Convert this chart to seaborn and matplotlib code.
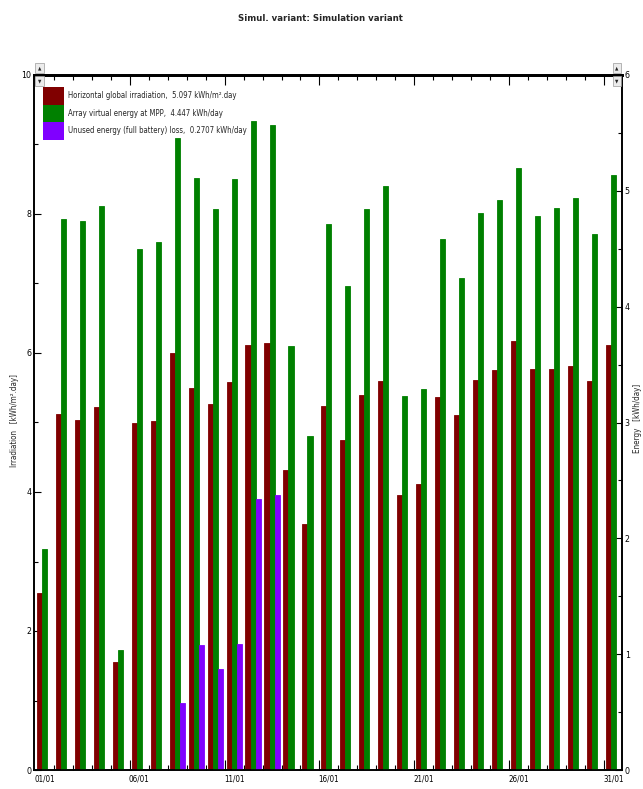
import matplotlib
matplotlib.use("Agg")
import matplotlib.pyplot as plt
from matplotlib.patches import Patch
from matplotlib.ticker import MultipleLocator
import seaborn as sns
import pandas as pd

# daily values, January
days = ["01/01", "02/01", "03/01", "04/01", "05/01", "06/01", "07/01", "08/01",
        "09/01", "10/01", "11/01", "12/01", "13/01", "14/01", "15/01", "16/01",
        "17/01", "18/01", "19/01", "20/01", "21/01", "22/01", "23/01", "24/01",
        "25/01", "26/01", "27/01", "28/01", "29/01", "30/01", "31/01"]

# kWh/m2.day (left axis)
irradiation = [2.54, 5.12, 5.03, 5.22, 1.55, 4.99, 5.02, 6.00, 5.50, 5.26, 5.58,
               6.11, 6.14, 4.32, 3.54, 5.24, 4.75, 5.39, 5.60, 3.95, 4.11, 5.37,
               5.11, 5.61, 5.75, 6.17, 5.77, 5.77, 5.82, 5.60, 6.12]

# kWh/day (right axis)
array_energy = [1.91, 4.76, 4.74, 4.87, 1.04, 4.50, 4.56, 5.46, 5.11, 4.84, 5.10,
                5.60, 5.57, 3.66, 2.88, 4.71, 4.18, 4.84, 5.04, 3.23, 3.29, 4.58,
                4.25, 4.81, 4.92, 5.20, 4.78, 4.85, 4.94, 4.63, 5.14]

unused_energy = [0, 0, 0, 0, 0, 0, 0, 0.58, 1.08, 0.87, 1.09, 2.34, 2.37, 0, 0, 0,
                 0, 0, 0, 0, 0, 0, 0, 0, 0, 0, 0, 0, 0, 0, 0]

series_names = ["Horizontal global irradiation,  5.097 kWh/m\u00b2.day",
                "Array virtual energy at MPP,  4.447 kWh/day",
                "Unused energy (full battery) loss,  0.2707 kWh/day"]
series_colors = ["#800000", "#008000", "#8000ff"]
palette = dict(zip(series_names, series_colors))

df = pd.DataFrame({
    "day": days * 3,
    "value": irradiation + array_energy + unused_energy,
    "series": [series_names[0]] * 31 + [series_names[1]] * 31 + [series_names[2]] * 31,
})

sns.set_theme(style="white")
plt.rcParams["font.family"] = ["DejaVu Sans"]
plt.rcParams["font.stretch"] = "condensed"

W, H = 643, 789
fig = plt.figure(figsize=(W / 100, H / 100), dpi=100)
ax = fig.add_axes([34 / W, 19 / H, 588 / W, 695 / H])
ax2 = ax.twinx()

common = dict(data=df, x="day", y="value", hue="series", hue_order=series_names,
              palette=palette, order=days, width=0.8, errorbar=None,
              saturation=1, legend=False)
# draw all three on each axis so the dodge is the same, then keep
# irradiation on the left scale and the energies on the right scale
sns.barplot(ax=ax, **common)
sns.barplot(ax=ax2, **common)
for c in ax.containers[1:]:
    for bar in c:
        bar.remove()
for bar in ax2.containers[0]:
    bar.remove()

# thin edge so the zero bars show as a line at the base
for a in (ax, ax2):
    for p in a.patches:
        p.set_edgecolor(p.get_facecolor())
        p.set_linewidth(0.6)

ax.set_ylim(0, 10)
ax2.set_ylim(0, 6)
ax.set_xlim(-0.55, 30.45)
for a in (ax, ax2):
    a.set_xlabel("")
    a.set_ylabel("")

# y ticks
ax.yaxis.set_major_locator(MultipleLocator(2))
ax.yaxis.set_minor_locator(MultipleLocator(1))
ax2.yaxis.set_major_locator(MultipleLocator(1))
ax2.yaxis.set_minor_locator(MultipleLocator(0.5))
ax.tick_params(axis="y", which="both", direction="in", left=True, right=False,
               labelsize=6.3, pad=2, colors="black")
ax.tick_params(axis="y", which="major", length=5, width=0.8)
ax.tick_params(axis="y", which="minor", length=3, width=0.8)
ax2.tick_params(axis="y", which="both", direction="in", right=True, left=False,
                labelsize=6.3, pad=2, colors="black")
ax2.tick_params(axis="y", which="major", length=5, width=0.8)
ax2.tick_params(axis="y", which="minor", length=3, width=0.8)

# x ticks: marks at day boundaries, date labels at every 5th day
bounds = [i + 0.5 for i in range(30)]
ax.set_xticks(bounds)
ax.set_xticklabels([])
ax.set_xticks(range(0, 31, 5), minor=True)
ax.set_xticklabels(days[::5], minor=True)
ax.tick_params(axis="x", which="major", direction="in", bottom=True, top=True,
               length=3.5, width=0.8, color="black")
ax.tick_params(axis="x", which="minor", length=0, labelsize=5.8, pad=3,
               labelcolor="black")
for t, b in zip(ax.xaxis.get_major_ticks(), bounds):
    if int(b + 0.5) % 5 == 0:
        t.tick1line.set_markersize(7)
        t.tick2line.set_markersize(7)

for a in (ax, ax2):
    for s in a.spines.values():
        s.set_visible(True)
        s.set_color("black")
        s.set_linewidth(1.2)
    a.spines["top"].set_linewidth(2)
    a.grid(False)

handles = [Patch(facecolor=c, edgecolor="none") for c in series_colors]
ax2.legend(handles, series_names, loc="upper left",
           bbox_to_anchor=(9 / 588, 1 - 12 / 695), frameon=False,
           borderpad=0, borderaxespad=0, labelspacing=0.0,
           handlelength=2.65, handleheight=3.1, handletextpad=0.6,
           fontsize=5.6)

fig.text(0.498, 0.977, "Simul. variant: Simulation variant", ha="center",
         va="center", fontsize=6.8, fontweight="bold")
fig.text(15 / W, 1 - 421 / H, "Irradiation   [kWh/m\u00b2.day]", rotation=90,
         ha="center", va="center", fontsize=5.8)
fig.text(637 / W, 1 - 418 / H, "Energy   [kWh/day]", rotation=90,
         ha="center", va="center", fontsize=5.8)

# little scroll buttons at the axis ends
for x in (39.5 / W, 617 / W):
    for y, sym in ((1 - 68 / H, "\u25b2"), (1 - 81 / H, "\u25bc")):
        fig.text(x, y, sym, ha="center", va="center", fontsize=3.5,
                 bbox=dict(boxstyle="square,pad=0.5", facecolor="#ececec",
                           edgecolor="#9a9a9a", linewidth=0.5))

fig.savefig("out.png", dpi=100)
